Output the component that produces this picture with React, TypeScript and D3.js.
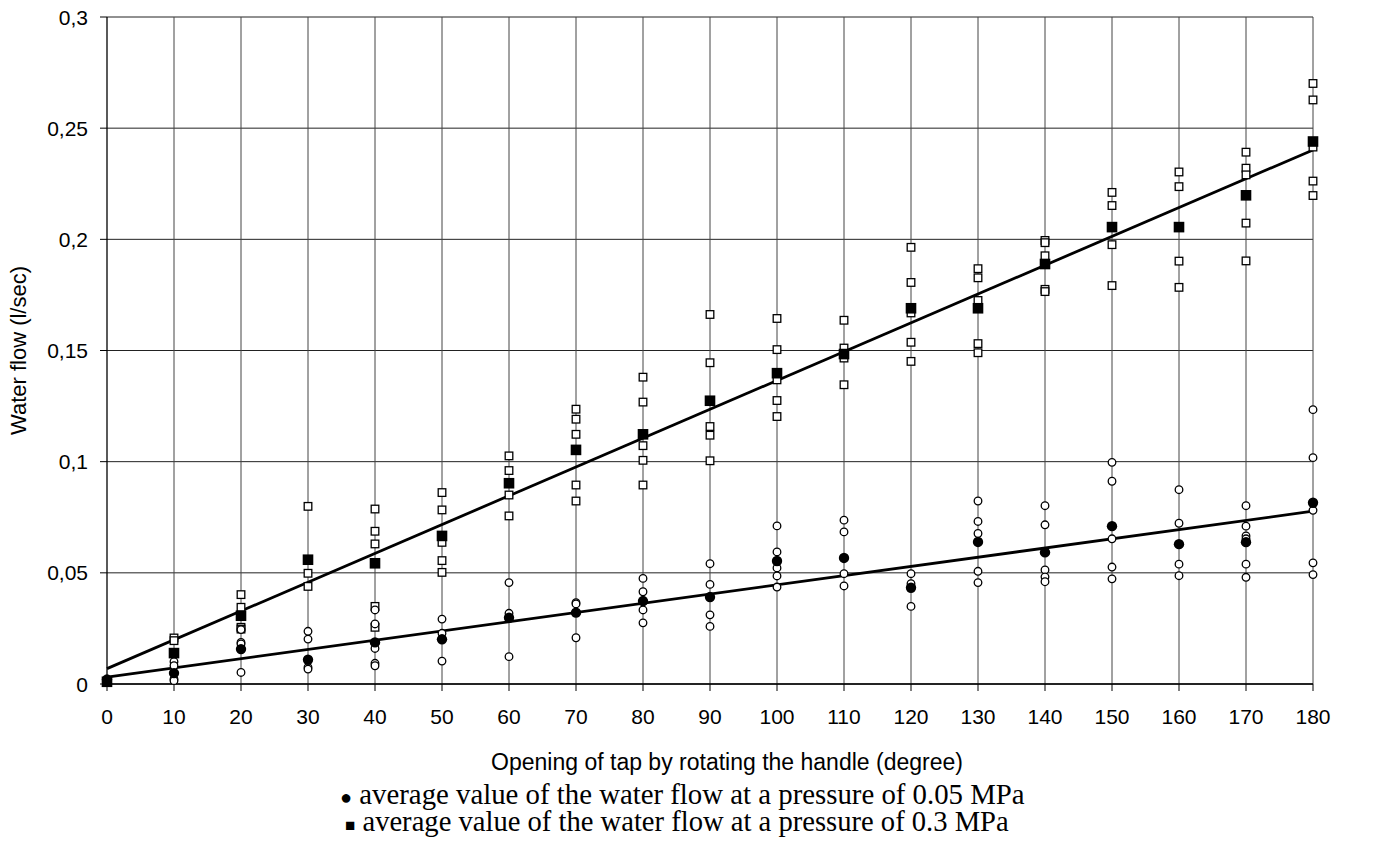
import React from "react";
import * as d3 from "d3";

const angles = [0, 10, 20, 30, 40, 50, 60, 70, 80, 90, 100, 110, 120, 130, 140, 150, 160, 170, 180];

// average values (filled markers)
const avg005 = [0.002, 0.0049, 0.0157, 0.0109, 0.0187, 0.0201, 0.0298, 0.0321, 0.0373, 0.0391, 0.0553, 0.0567, 0.0433, 0.0639, 0.0592, 0.071, 0.0629, 0.0638, 0.0815];
const avg03 = [0.001, 0.0139, 0.0307, 0.0559, 0.0543, 0.0666, 0.0903, 0.1053, 0.1123, 0.1274, 0.1398, 0.1484, 0.169, 0.169, 0.1889, 0.2055, 0.2055, 0.2198, 0.244];

// individual measurements (open markers)
const meas005: number[][] = [
  [],
  [0.010, 0.0082, 0.0022, 0.0015],
  [0.0245, 0.0187, 0.018, 0.0052],
  [0.0237, 0.0202, 0.0075, 0.0067],
  [0.0333, 0.027, 0.016, 0.0093, 0.0082],
  [0.0292, 0.0228, 0.0103],
  [0.0456, 0.0318, 0.0123],
  [0.0366, 0.036, 0.0208],
  [0.0475, 0.0415, 0.0333, 0.0275],
  [0.0541, 0.0448, 0.0311, 0.0259],
  [0.0711, 0.0594, 0.0522, 0.0486, 0.0436],
  [0.0737, 0.0684, 0.0496, 0.0441],
  [0.0496, 0.0451, 0.0349],
  [0.0823, 0.0731, 0.0677, 0.0507, 0.0456],
  [0.0802, 0.0716, 0.0513, 0.0482, 0.046],
  [0.0997, 0.0912, 0.0653, 0.0526, 0.0473],
  [0.0874, 0.0723, 0.0539, 0.0487],
  [0.0802, 0.071, 0.0666, 0.0653, 0.0539, 0.048],
  [0.1234, 0.1018, 0.0781, 0.0545, 0.0492],
];
const meas03: number[][] = [
  [],
  [0.0207, 0.0195],
  [0.0402, 0.0345, 0.0255, 0.0247],
  [0.0799, 0.0498, 0.0439],
  [0.0787, 0.0687, 0.063, 0.0349, 0.0255],
  [0.0861, 0.0783, 0.0637, 0.0555, 0.0502],
  [0.1026, 0.096, 0.085, 0.0756],
  [0.1236, 0.1191, 0.1123, 0.0895, 0.0823],
  [0.138, 0.1268, 0.1072, 0.1006, 0.0895],
  [0.1662, 0.1445, 0.1158, 0.1119, 0.1004],
  [0.1644, 0.1504, 0.1368, 0.1275, 0.1203],
  [0.1636, 0.1511, 0.1466, 0.1346],
  [0.1964, 0.1806, 0.1669, 0.1537, 0.1451],
  [0.1868, 0.1827, 0.1725, 0.1531, 0.149],
  [0.1995, 0.1985, 0.1926, 0.1775, 0.1765],
  [0.2211, 0.2152, 0.1976, 0.1792],
  [0.2303, 0.2237, 0.1902, 0.1784],
  [0.2392, 0.232, 0.229, 0.2073, 0.1903],
  [0.2701, 0.2627, 0.2415, 0.2262, 0.2197],
];

const yTicks = [0, 0.05, 0.1, 0.15, 0.2, 0.25, 0.3];
const yTickLabels = ["0", "0,05", "0,1", "0,15", "0,2", "0,25", "0,3"];

const xTitle = "Opening of tap by rotating the handle (degree)";
const yTitle = "Water flow (l/sec)";
const legend1 = "average value of the water flow at a pressure of 0.05 MPa";
const legend2 = "average value of the water flow at a pressure of 0.3 MPa";

const W = 1378;
const H = 863;
const M = { left: 107, right: 1313, top: 17, bottom: 684 };

function fit(xs: number[], ys: number[]) {
  const mx = d3.mean(xs) as number;
  const my = d3.mean(ys) as number;
  let num = 0, den = 0;
  xs.forEach((x, i) => { num += (x - mx) * (ys[i] - my); den += (x - mx) * (x - mx); });
  const b = num / den;
  const a = my - b * mx;
  return (x: number) => a + b * x;
}

export default function App() {
  const x = d3.scaleLinear().domain([0, 180]).range([M.left, M.right]);
  const y = d3.scaleLinear().domain([0, 0.3]).range([M.bottom, M.top]);
  const f005 = fit(angles, avg005);
  const f03 = fit(angles, avg03);
  const line = d3.line<number>().x((d) => x(d));
  const ext = [0, 180];
  const sans = "'Liberation Sans', Arial, sans-serif";
  const serif = "'Liberation Serif', 'Times New Roman', serif";

  return (
    <svg width={W} height={H} style={{ position: "absolute", left: 0, top: 0, background: "#fff" }}>
      <rect width={W} height={H} fill="#fff" />
      {/* horizontal gridlines */}
      {yTicks.map((t) => (
        <line key={"h" + t} x1={M.left} x2={M.right} y1={y(t)} y2={y(t)} stroke="#222" strokeWidth={1} />
      ))}
      {/* vertical gridlines */}
      {angles.slice(1).map((a) => (
        <line key={"v" + a} x1={x(a)} x2={x(a)} y1={M.top} y2={M.bottom} stroke="#444" strokeWidth={1} />
      ))}
      {/* axes */}
      <line x1={M.left} x2={M.left} y1={M.top} y2={M.bottom} stroke="#000" strokeWidth={1.3} />
      <line x1={M.left} x2={M.right} y1={M.bottom} y2={M.bottom} stroke="#000" strokeWidth={1.3} />
      {yTicks.map((t) => (
        <line key={"yt" + t} x1={M.left - 7} x2={M.left} y1={y(t)} y2={y(t)} stroke="#000" strokeWidth={1} />
      ))}
      {angles.map((a) => (
        <line key={"xt" + a} x1={x(a)} x2={x(a)} y1={M.bottom} y2={M.bottom + 7} stroke="#000" strokeWidth={1} />
      ))}
      {/* tick labels */}
      {yTicks.map((t, i) => (
        <text key={"yl" + t} x={M.left - 19} y={y(t) + 7.5} textAnchor="end" fontFamily={sans} fontSize={21} fill="#000">
          {yTickLabels[i]}
        </text>
      ))}
      {angles.map((a) => (
        <text key={"xl" + a} x={x(a)} y={M.bottom + 40} textAnchor="middle" fontFamily={sans} fontSize={21} fill="#000">
          {String(a)}
        </text>
      ))}
      {/* axis titles */}
      <text x={727} y={770} textAnchor="middle" fontFamily={sans} fontSize={23} fill="#000">{xTitle}</text>
      <text transform={`translate(26, ${(M.top + M.bottom) / 2}) rotate(-90)`} textAnchor="middle" fontFamily={sans} fontSize={22} fill="#000">{yTitle}</text>

      {/* trend lines */}
      <path d={line.y((d) => y(f03(d)))(ext) || ""} stroke="#000" strokeWidth={2.8} fill="none" />
      <path d={line.y((d) => y(f005(d)))(ext) || ""} stroke="#000" strokeWidth={2.8} fill="none" />

      {/* open markers */}
      {meas03.map((vals, i) =>
        vals.map((v, j) => (
          <rect key={"s" + i + "-" + j} x={x(angles[i]) - 3.8} y={y(v) - 3.8} width={7.6} height={7.6} fill="#fff" stroke="#000" strokeWidth={1.3} />
        ))
      )}
      {meas005.map((vals, i) =>
        vals.map((v, j) => (
          <circle key={"c" + i + "-" + j} cx={x(angles[i])} cy={y(v)} r={3.8} fill="#fff" stroke="#000" strokeWidth={1.3} />
        ))
      )}
      {/* average markers */}
      {avg005.map((v, i) => (
        <circle key={"ac" + i} cx={x(angles[i])} cy={y(v)} r={5.2} fill="#000" />
      ))}
      {avg03.map((v, i) => (
        <rect key={"as" + i} x={x(angles[i]) - 5.3} y={y(v) - 5.3} width={10.6} height={10.6} fill="#000" />
      ))}

      {/* legend */}
      <text x={340} y={804} textAnchor="start" fontFamily={serif} fontSize={28.8} fill="#000">
        <tspan fontSize={20}>●</tspan> {legend1}
      </text>
      <text x={345} y={831} textAnchor="start" fontFamily={serif} fontSize={28.6} fill="#000">
        <tspan fontSize={17}>■</tspan> {legend2}
      </text>
    </svg>
  );
}
